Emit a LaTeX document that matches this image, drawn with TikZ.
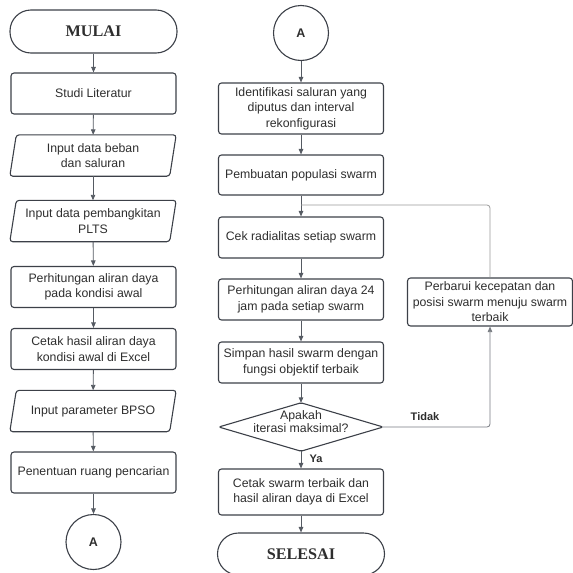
\documentclass[tikz,border=0pt]{standalone}
\usepackage{fontspec}
\setmainfont{Liberation Sans}
\newfontfamily\serifb{Liberation Serif}
\usetikzlibrary{arrows.meta}
\definecolor{edge}{HTML}{3C4048}
\definecolor{arrc}{HTML}{555A62}
\definecolor{loopc}{HTML}{9A9A9A}
\definecolor{txt}{HTML}{2E2E2E}
\newcommand\drawpara[1]{\draw[edge, line width=1.1pt, rounded corners=3pt] ([xshift=6.5pt]#1.north west) -- (#1.north east) -- ([xshift=-6.5pt]#1.south east) -- (#1.south west) -- cycle;}
\begin{document}
\begin{tikzpicture}[x=1pt,y=-1pt,
  proc/.style={draw=edge, line width=1.1pt, rounded corners=3pt, minimum width=165pt, minimum height=41pt, align=center, text=txt, font=\fontsize{12.3}{15.5}\selectfont, inner sep=0pt},
  iobox/.style={minimum width=166pt, minimum height=41pt, align=center, text=txt, font=\fontsize{12.3}{15.5}\selectfont, inner sep=0pt},
  term/.style={draw=edge, line width=1.1pt, rounded corners=21pt, minimum width=167pt, minimum height=43pt, text=txt, font=\serifb\bfseries\fontsize{16.2}{18}\selectfont, inner sep=0pt},
  conn/.style={draw=edge, line width=1.1pt, circle, minimum size=55pt, text=txt, font=\bfseries\fontsize{12.5}{14}\selectfont, inner sep=0pt},
  lbl/.style={text=txt, font=\bfseries\fontsize{11}{13}\selectfont, inner sep=0pt},
  arr/.style={draw=arrc, line width=0.9pt, -{Triangle[length=5.5pt,width=4.5pt]}},
  loopl/.style={draw=loopc, line width=0.8pt, rounded corners=3pt}
]
\useasboundingbox (0,0) rectangle (573,573);
% left column
\node[term] (mulai) at (93.5,31.5) {MULAI};
\node[proc] (studi) at (93.5,93.5) {Studi Literatur};
\node[iobox] (in1) at (93,155.5) {Input data beban\\dan saluran};
\drawpara{in1}
\node[iobox] (in2) at (93,221) {Input data pembangkitan\\PLTS};
\drawpara{in2}
\node[proc] (perh) at (93.5,287) {Perhitungan aliran daya\\pada kondisi awal};
\node[proc] (cetak) at (93.5,349) {Cetak hasil aliran daya\\kondisi awal di Excel};
\node[iobox] (bpso) at (93,411) {Input parameter BPSO};
\drawpara{bpso}
\node[proc] (pen) at (93.5,472.5) {Penentuan ruang pencarian};
\node[conn] (a1) at (93.5,542) {A};
\draw[arr] (mulai) -- (studi);
\draw[arr] (studi) -- (in1);
\draw[arr] (in1) -- (in2);
\draw[arr] (in2) -- (perh);
\draw[arr] (perh) -- (cetak);
\draw[arr] (cetak) -- (bpso);
\draw[arr] (bpso) -- (pen);
\draw[arr] (pen) -- (a1);
% right column
\node[conn] (a2) at (301,33) {A};
\node[proc, minimum height=51pt] (ident) at (301,108.5) {Identifikasi saluran yang\\diputus dan interval\\rekonfigurasi};
\node[proc, minimum height=40pt] (buat) at (301,175) {Pembuatan populasi swarm};
\node[proc] (cek) at (301,237.5) {Cek radialitas setiap swarm};
\node[proc] (p24) at (301,299.5) {Perhitungan aliran daya 24\\jam pada setiap swarm};
\node[proc] (simpan) at (301,362.5) {Simpan hasil swarm dengan\\fungsi objektif terbaik};
\node[minimum width=164pt, minimum height=48pt, inner sep=0pt] (dia) at (301,427) {};
\draw[edge, line width=1.1pt, rounded corners=1.5pt] (dia.west) -- (dia.north) -- (dia.east) -- (dia.south) -- cycle;
\node[align=center, text=txt, font=\fontsize{12.3}{12.5}\selectfont, inner sep=0pt] (diat) at ([yshift=5.5pt]dia.center) {Apakah\\iterasi maksimal?};
\node[proc, minimum height=46pt] (cetak2) at (301,492) {Cetak swarm terbaik dan\\hasil aliran daya di Excel};
\node[term, minimum height=42pt] (selesai) at (301,554) {SELESAI};
\node[proc, minimum height=48pt] (upd) at (490,302) {Perbarui kecepatan dan\\posisi swarm menuju swarm\\terbaik};
\node[lbl] (ya) at (316,459) {Ya};
\node[lbl] (tidak) at (425,417) {Tidak};
\coordinate (c1) at (490,427);
\coordinate (c2) at (490,205);
\coordinate (c3) at (301,205);
\draw[arr] (a2) -- (ident);
\draw[arr] (ident) -- (buat);
\draw[arr] (buat) -- (cek);
\draw[arr] (cek) -- (p24);
\draw[arr] (p24) -- (simpan);
\draw[arr] (simpan) -- (dia.north);
\draw[arr] (dia.south) -- (cetak2);
\draw[arr] (cetak2) -- (selesai);
\draw[loopl, -{Triangle[length=5.5pt,width=4.5pt]}, draw=arrc!80] (dia.east) -- (c1) -- (upd.south);
\draw[loopl] (upd.north) -- (c2) -- (c3);
\end{tikzpicture}
\end{document}
